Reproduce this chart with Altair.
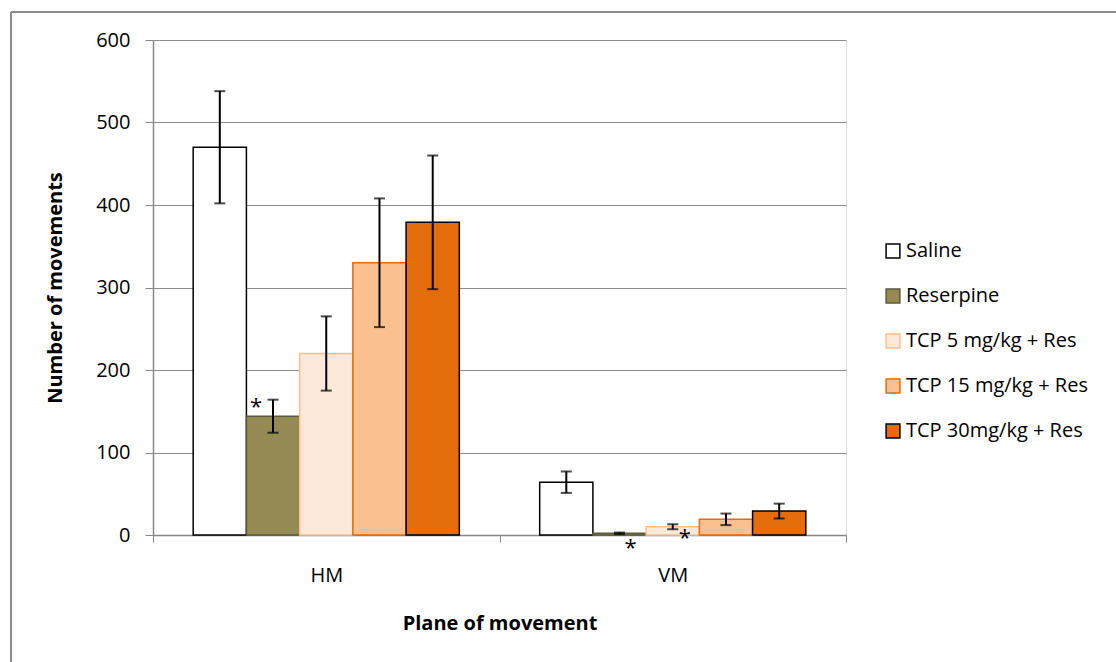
import altair as alt
import pandas as pd

planes = ["HM", "VM"]
groups = ["Saline", "Reserpine", "TCP 5 mg/kg + Res", "TCP 15 mg/kg + Res", "TCP 30mg/kg + Res"]
hm_values = [470, 144, 220, 330, 379]
hm_errors = [68, 20, 45, 78, 81]
vm_values = [64, 2, 10, 19, 29]
vm_errors = [13, 1, 3, 7, 9]
fills = ["#FFFFFF", "#948A54", "#FDE9D9", "#FAC090", "#E46C0A"]
strokes = ["#000000", "#5E5A38", "#FAC090", "#E46C0A", "#000000"]

# significance stars: plane, group, value position, pixel shift
star_planes = ["HM", "VM", "VM"]
star_groups = ["Reserpine", "Reserpine", "TCP 5 mg/kg + Res"]
star_values = [160, 0, 0]
star_dx = [-17, 11, 12]
star_dy = [4, 13, 3]

rows = []
for p, vals, errs in [("HM", hm_values, hm_errors), ("VM", vm_values, vm_errors)]:
    for g, v, e in zip(groups, vals, errs):
        rows.append({"plane": p, "group": g, "value": v, "low": v - e, "high": v + e})
df = pd.DataFrame(rows)

stars = pd.DataFrame({"plane": star_planes, "group": star_groups, "value": star_values,
                      "t": ["*"] * 3})

FONT = "Open Sans"
FS = 20

x_enc = alt.X("plane:N", sort=planes,
              scale=alt.Scale(paddingInner=0, paddingOuter=0),
              axis=alt.Axis(title="Plane of movement", labelAngle=0, tickBand="extent",
                            tickSize=7, tickColor="#888888", domainColor="#888888",
                            labelPadding=23, labelFontSize=FS, labelColor="#000000",
                            titleFontSize=FS, titleFontWeight="bold", titlePadding=28,
                            labelFont=FONT, titleFont=FONT, grid=False, domainWidth=1.5))
xo_enc = alt.XOffset("group:N", sort=groups, scale=alt.Scale(paddingInner=0, paddingOuter=0.755))
y_scale = alt.Scale(domain=[0, 600])

bars = alt.Chart(df).mark_bar(strokeWidth=1.5).encode(
    x=x_enc,
    xOffset=xo_enc,
    y=alt.Y("value:Q", scale=y_scale,
            axis=alt.Axis(title="Number of movements", values=[0, 100, 200, 300, 400, 500, 600],
                          tickSize=8, tickColor="#888888", domainColor="#888888", domainWidth=1.5,
                          gridColor="#8c8c8c", gridWidth=1.2, labelPadding=15,
                          labelFontSize=FS, labelColor="#000000", titleFontSize=FS,
                          titleFontWeight="bold", titlePadding=30, labelFont=FONT, titleFont=FONT)),
    fill=alt.Fill("group:N", sort=groups, scale=alt.Scale(domain=groups, range=fills),
                  legend=alt.Legend(title=None, orient="none", legendX=730, legendY=201,
                                    symbolType="square", symbolSize=190, symbolStrokeWidth=1.5,
                                    labelFontSize=FS, labelFont=FONT, labelColor="#000000",
                                    labelLimit=400, rowPadding=25, labelOffset=3,
                                    symbolOpacity=1)),
    stroke=alt.Stroke("group:N", sort=groups, scale=alt.Scale(domain=groups, range=strokes)),
)

err = alt.Chart(df).mark_rule(color="black", strokeWidth=2).encode(
    x=alt.X("plane:N", sort=planes), xOffset=xo_enc,
    y="low:Q", y2="high:Q")

cap_lo = alt.Chart(df).mark_tick(color="black", thickness=2, size=11, orient="horizontal").encode(
    x=alt.X("plane:N", sort=planes), xOffset=xo_enc, y="low:Q")
cap_hi = alt.Chart(df).mark_tick(color="black", thickness=2, size=11, orient="horizontal").encode(
    x=alt.X("plane:N", sort=planes), xOffset=xo_enc, y="high:Q")

star_layers = []
for i in range(len(star_planes)):
    s = stars.iloc[[i]]
    star_layers.append(
        alt.Chart(s).mark_text(fontSize=22, font=FONT, color="black",
                               dx=int(star_dx[i]), dy=int(star_dy[i])).encode(
            x=alt.X("plane:N", sort=planes), xOffset=xo_enc, y="value:Q", text="t:N"))

frame_top = alt.Chart(pd.DataFrame({"a": [0]})).mark_rule(color="#8c8c8c", strokeWidth=2).encode(
    x=alt.value(-142), x2=alt.value(1000), y=alt.value(-28))
frame_left = alt.Chart(pd.DataFrame({"a": [0]})).mark_rule(color="#8c8c8c", strokeWidth=2).encode(
    x=alt.value(-142), y=alt.value(-28), y2=alt.value(700))

chart = alt.layer(bars, err, cap_lo, cap_hi, *star_layers, frame_top, frame_left).properties(
    width=693, height=495,
    autosize=alt.AutoSizeParams(type="none"),
    padding={"left": 153, "top": 40, "right": 270, "bottom": 127},
).configure_view(stroke=None).configure(background="white")

chart.save("out.html", embed_options={"renderer": "svg", "actions": False})
